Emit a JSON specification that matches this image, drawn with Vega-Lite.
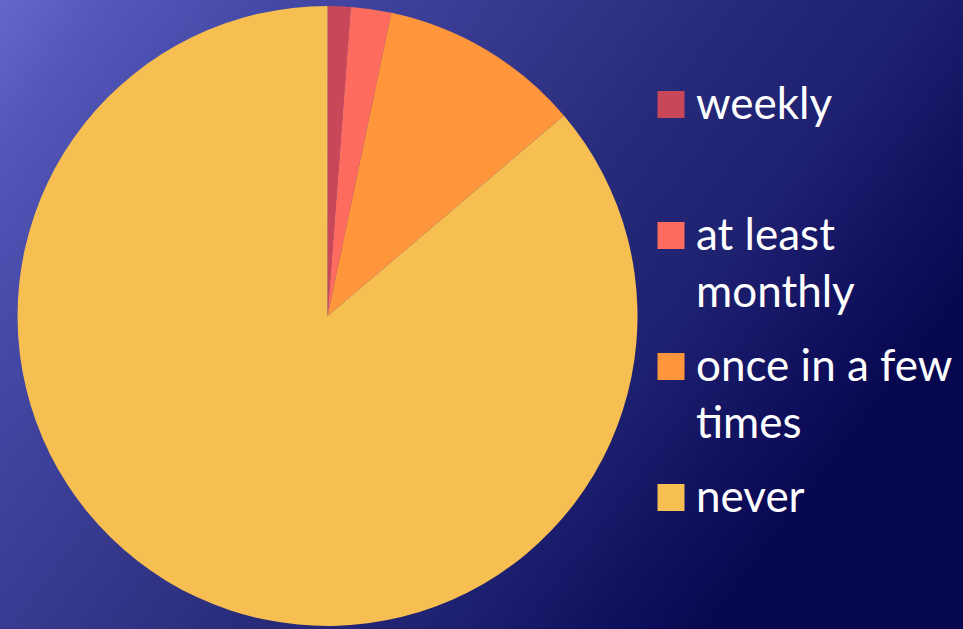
{
  "$schema": "https://vega.github.io/schema/vega-lite/v6.json",
  "width": 963,
  "height": 629,
  "autosize": "none",
  "padding": 0,
  "background": "#1a1c6a",
  "config": {
    "style": {
      "guide-label": {"lineHeight": 57, "dy": 14}
    }
  },
  "view": {
    "stroke": null,
    "fill": {
      "gradient": "linear",
      "x1": 0, "y1": 0, "x2": 1, "y2": 0.5,
      "stops": [
        {"offset": 0, "color": "#6468C8"},
        {"offset": 0.09, "color": "#5458B8"},
        {"offset": 0.2, "color": "#474BAA"},
        {"offset": 0.54, "color": "#2E3080"},
        {"offset": 0.62, "color": "#262A78"},
        {"offset": 0.77, "color": "#1E2070"},
        {"offset": 0.94, "color": "#0C0C58"},
        {"offset": 1, "color": "#070750"}
      ]
    }
  },
  "data": {
    "values": [
      {"category": "weekly", "share": 1.2, "rank": 1},
      {"category": "at least monthly", "share": 2.1, "rank": 2},
      {"category": "once in a few times", "share": 10.5, "rank": 3},
      {"category": "never", "share": 86.2, "rank": 4}
    ]
  },
  "mark": {
    "type": "arc",
    "radius": 310,
    "x": {"expr": "width * 0.3401"},
    "y": {"expr": "height * 0.5024"},
    "stroke": null
  },
  "encoding": {
    "theta": {"field": "share", "type": "quantitative", "stack": true},
    "order": {"field": "rank", "type": "quantitative", "sort": "ascending"},
    "color": {
      "field": "category",
      "type": "nominal",
      "scale": {
        "domain": ["weekly", "at least monthly", "once in a few times", "never"],
        "range": ["#C8485A", "#FF6B5E", "#FF963C", "#F7BE52"]
      },
      "legend": {
        "title": null,
        "orient": "none",
        "legendX": 649,
        "legendY": 82.5,
        "padding": 0,
        "symbolType": "square",
        "symbolSize": 729,
        "symbolStrokeWidth": 0,
        "symbolOpacity": 1,
        "labelFont": "Lato",
        "labelFontSize": 44,
        "labelColor": "#FFFFFF",
        "labelLimit": 400,
        "labelOffset": 3,
        "labelBaseline": "alphabetic",
        "gridAlign": "all",
        "rowPadding": 29,
        "labelExpr": "datum.label == 'at least monthly' ? ['at least', 'monthly'] : datum.label == 'once in a few times' ? ['once in a few', 'times'] : datum.label"
      }
    }
  }
}
